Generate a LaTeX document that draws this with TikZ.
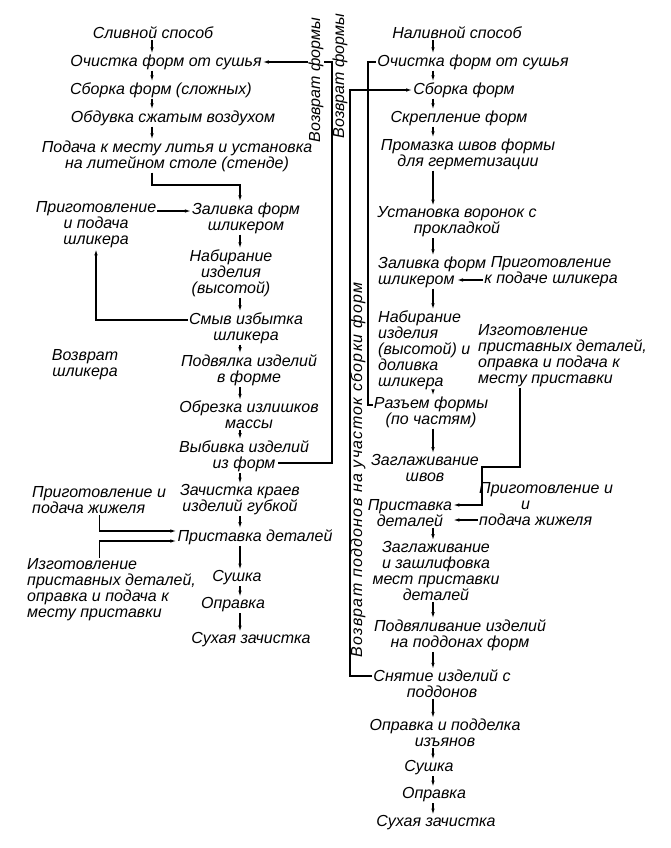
\documentclass[tikz,border=0pt]{standalone}
\usepackage{fontspec}
\setmainfont{Liberation Sans}
\usetikzlibrary{arrows.meta}
\begin{document}
\begin{tikzpicture}[x=1pt,y=-1pt, proc/.style={font=\itshape\fontsize{16}{16}\selectfont, align=center, inner sep=1pt}, flow/.style={-{Latex[length=6pt,width=3.5pt]}, line width=1.1pt}, link/.style={line width=1.1pt}, side/.style={proc, rotate=90}]
      \useasboundingbox (0,0) rectangle (670,848);
      \coordinate (lx) at (152,0);
      \coordinate (lx2) at (240,0);
      \coordinate (rx) at (433,0);
      \coordinate (va) at (332,0);
      \coordinate (vb) at (350,0);
      \coordinate (vc) at (368,0);

      \node[proc] (l1) at (153,33) {Сливной способ};
      \node[proc] (l2) at (166,62) {Очистка форм от сушья};
      \node[proc] (l3) at (161,90) {Сборка форм (сложных)};
      \node[proc] (l4) at (173,118) {Обдувка сжатым воздухом};
      \node[proc] (l5) at (177,156) {Подача к месту литья и установка\\на литейном столе (стенде)};
      \node[proc] (l6) at (246,218) {Заливка форм\\шликером};
      \node[proc] (l7) at (96,225) {Приготовление\\и подача\\шликера};
      \node[proc] (l8) at (231,273) {Набирание\\изделия\\(высотой)};
      \node[proc] (l9) at (246,328) {Смыв избытка\\шликера};
      \node[proc] (lret) at (85,365) {Возврат\\шликера};
      \node[proc] (l10) at (249,370) {Подвялка изделий\\в форме};
      \node[proc] (l11) at (249,415) {Обрезка излишков\\массы};
      \node[proc] (l12) at (244,456) {Выбивка изделий\\из форм};
      \node[proc] (l13) at (240,500) {Зачистка краев\\изделий губкой};
      \node[proc, anchor=west, align=left] (l14) at (31,500) {Приготовление и\\подача жижеля};
      \node[proc] (l15) at (255,537) {Приставка деталей};
      \node[proc, anchor=west, align=left] (l16) at (26,590) {Изготовление\\приставных деталей,\\оправка и подача к\\месту приставки};
      \node[proc] (l17) at (237,578) {Сушка};
      \node[proc] (l18) at (233,605) {Оправка};
      \node[proc] (l19) at (251,640) {Сухая зачистка};
      \coordinate (a12) at (278,463);

      \node[proc] (r1) at (457,33) {Наливной способ};
      \node[proc] (r2) at (473,62) {Очистка форм от сушья};
      \node[proc] (r3) at (464,90) {Сборка форм};
      \node[proc] (r4) at (459,118) {Скрепление форм};
      \node[proc] (r5) at (468,154) {Промазка швов формы\\для герметизации};
      \node[proc] (r6) at (457,222) {Установка воронок с\\прокладкой};
      \node[proc, anchor=west, align=left] (r7) at (377,272) {Заливка форм\\шликером};
      \node[proc] (r8) at (551,272) {Приготовление\\к подаче шликера};
      \node[proc, anchor=west, align=left] (r9) at (377,350) {Набирание\\изделия\\(высотой) и\\доливка\\шликера};
      \node[proc, anchor=west, align=left] (r10) at (477,356) {Изготовление\\приставных деталей,\\оправка и подача к\\месту приставки};
      \node[proc] (r11) at (431,412) {Разъем формы\\(по частям)};
      \node[proc] (r12) at (425,468) {Заглаживание\\швов};
      \node[proc, anchor=west, align=left] (r13) at (478,504) {Приготовление и\\\hspace*{42pt}и\\подача жижеля};
      \node[proc] (r14) at (410,513) {Приставка\\деталей};
      \node[proc] (r15) at (436,571) {Заглаживание\\и зашлифовка\\мест приставки\\деталей};
      \node[proc] (r16) at (460,635) {Подвяливание изделий\\на поддонах форм};
      \node[proc] (r17) at (442,684) {Снятие изделий с\\поддонов};
      \node[proc] (r18) at (445,733) {Оправка и подделка\\изъянов};
      \node[proc] (r19) at (429,768) {Сушка};
      \node[proc] (r20) at (434,795) {Оправка};
      \node[proc] (r21) at (436,823) {Сухая зачистка};
      \coordinate (r7e) at (457,280);
      \coordinate (j1) at (520,467);
      \coordinate (j2) at (482,467);

      \foreach \a/\b in {l1/l2,l2/l3,l3/l4,l4/l5}
        \draw[flow] (\a.south -| lx) -- (\b.north -| lx);
      \foreach \a/\b in {l6/l8,l8/l9,l9/l10,l10/l11,l11/l12,l12/l13,l13/l15,l15/l17,l17/l18,l18/l19}
        \draw[flow] (\a.south -| lx2) -- (\b.north -| lx2);
      \foreach \a/\b in {r1/r2,r2/r3,r3/r4,r4/r5,r5/r6,r6/r7,r7/r9,r9/r11,r11/r12,r14/r15,r15/r16,r16/r17,r17/r18,r18/r19,r19/r20,r20/r21}
        \draw[flow] (\a.south -| rx) -- (\b.north -| rx);

      \draw[flow] (l5.south -| lx) -- (152,185) -| (l6.north -| lx2);
      \draw[flow] ([yshift=7pt]l6.west -| l7.east) -- ([yshift=7pt]l6.west);
      \draw[flow] ([yshift=8pt]l9.west) -| (l7.south);
      \draw[flow] (l14.south) |- ([yshift=6pt]l15.west);
      \draw[flow] (l16.north -| l14.south) |- ([yshift=-4pt]l15.west);
      \draw[flow] (a12) -| (va |- l2.east) -- (l2.east);
      \node[side, fill=white] (fa) at (316,80) {Возврат формы};

      \draw[link] ([yshift=7pt]r11.west) -| (vc |- r2.west) -- (r2.west);
      \draw[flow] ([yshift=8pt]r17.west) -| (vb |- r3.west) -- (r3.west);
      \node[side] (fb) at (340,76) {Возврат формы};
      \node[side, font=\itshape\fontsize{16}{16}\selectfont\addfontfeature{LetterSpace=8}] (fc) at (358,470) {Возврат поддонов на участок сборки форм};

      \draw[flow] (r8.west |- r7e) -- (r7e);
      \draw[flow] ([yshift=-16pt]r13.west) -- ([yshift=-16pt]r13.west -| r14.east);
      \draw[flow] (r10.south -| j1) -- (j1) -- (j2) |- ([yshift=8pt]r14.east);
    \end{tikzpicture}
\end{document}
